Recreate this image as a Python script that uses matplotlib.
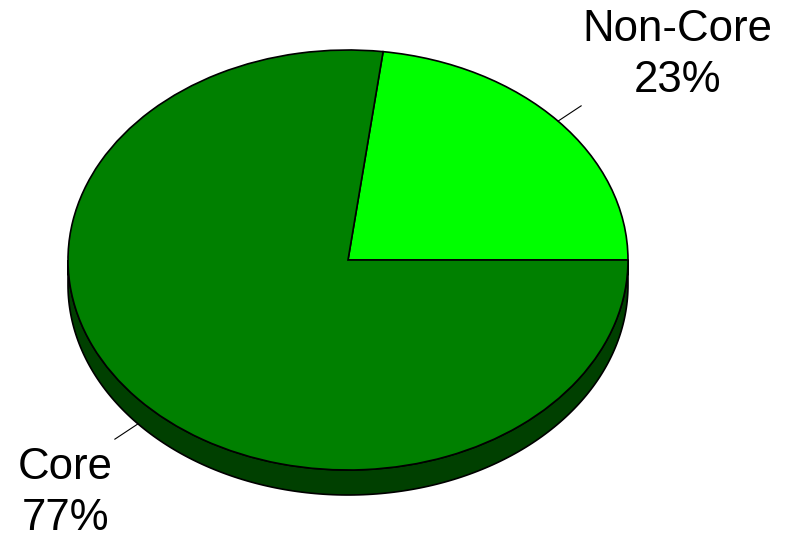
import numpy as np
import matplotlib
matplotlib.use("Agg")
import matplotlib.pyplot as plt
from matplotlib.patches import Polygon

labels = ["Non-Core", "Core"]
values = [23, 77]
colors = ["#00FF00", "#008000"]
side_color = "#004000"

W, H = 799, 543
fig = plt.figure(figsize=(W / 100, H / 100), dpi=100)

cx, cy, rx, ry = 348, 260, 280, 210
depth = 25 / ry
ax = fig.add_axes([(cx - rx) / W, (H - cy - ry) / H, 2 * rx / W, 2 * ry / H])

# side of the 3D pie (lower half of the ellipse extruded downward)
t = np.linspace(np.pi, 2 * np.pi, 200)
top = np.column_stack([np.cos(t), np.sin(t)])
bot = np.column_stack([np.cos(t[::-1]), np.sin(t[::-1]) - depth])
ax.add_patch(Polygon(np.vstack([top, bot]), closed=True, facecolor=side_color,
                     edgecolor="black", linewidth=1.2, zorder=1, clip_on=False))

wedges, _ = ax.pie(values, colors=colors, startangle=0, counterclock=True,
                   wedgeprops=dict(edgecolor="black", linewidth=1.2))
for w in wedges:
    w.set_zorder(2)
    w.set_clip_on(False)
ax.set_aspect("auto")
ax.set_xlim(-1, 1)
ax.set_ylim(-1, 1)
ax.set_axis_off()

# leader lines and labels
total = sum(values)
cum = 0
label_pos = {"Non-Core": (677, 55), "Core": (65, 493)}
for lab, v in zip(labels, values):
    mid = np.deg2rad((cum + v / 2) / total * 360)
    cum += v
    off = -depth if np.sin(mid) < 0 else 0
    r0, r1 = 1.0, 1.11
    ax.plot([r0 * np.cos(mid), r1 * np.cos(mid)],
            [r0 * np.sin(mid) + off, r1 * np.sin(mid) + off],
            color="black", linewidth=0.8, clip_on=False, zorder=3)
    px, py = label_pos[lab]
    fig.text(px / W, 1 - py / H, f"{lab}\n{v / total * 100:.0f}%",
             ha="center", va="center", fontsize=31.5, family="Liberation Sans",
             linespacing=1.3)

fig.savefig("out.png", dpi=100)
